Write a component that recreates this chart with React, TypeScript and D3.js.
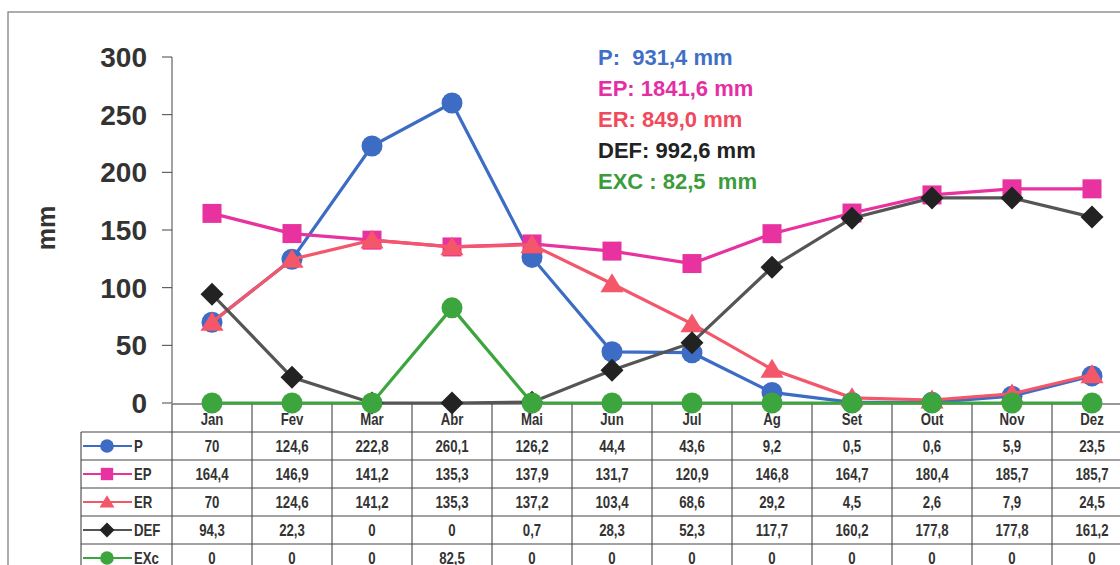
import * as d3 from 'd3';

const months = ['Jan', 'Fev', 'Mar', 'Abr', 'Mai', 'Jun', 'Jul', 'Ag', 'Set', 'Out', 'Nov', 'Dez'];
const pValues = [70, 124.6, 222.8, 260.1, 126.2, 44.4, 43.6, 9.2, 0.5, 0.6, 5.9, 23.5];
const epValues = [164.4, 146.9, 141.2, 135.3, 137.9, 131.7, 120.9, 146.8, 164.7, 180.4, 185.7, 185.7];
const erValues = [70, 124.6, 141.2, 135.3, 137.2, 103.4, 68.6, 29.2, 4.5, 2.6, 7.9, 24.5];
const defValues = [94.3, 22.3, 0, 0, 0.7, 28.3, 52.3, 117.7, 160.2, 177.8, 177.8, 161.2];
const excValues = [0, 0, 0, 82.5, 0, 0, 0, 0, 0, 0, 0, 0];
const yTicks = [0, 50, 100, 150, 200, 250, 300];
const totals = [
  { text: 'P:  931,4 mm', color: '#3f6fc6' },
  { text: 'EP: 1841,6 mm', color: '#e42fa4' },
  { text: 'ER: 849,0 mm', color: '#f04a5c' },
  { text: 'DEF: 992,6 mm', color: '#222222' },
  { text: 'EXC : 82,5  mm', color: '#3c9c3c' },
];

type Shape = 'circle' | 'square' | 'triangle' | 'diamond';
const series: { name: string; values: number[]; line: string; fill: string; shape: Shape }[] = [
  { name: 'P', values: pValues, line: '#3d6cc4', fill: '#3d6cc4', shape: 'circle' },
  { name: 'EP', values: epValues, line: '#e8329f', fill: '#e8329f', shape: 'square' },
  { name: 'ER', values: erValues, line: '#f4566a', fill: '#f4566a', shape: 'triangle' },
  { name: 'DEF', values: defValues, line: '#555555', fill: '#222222', shape: 'diamond' },
  { name: 'EXc', values: excValues, line: '#3da53d', fill: '#3da53d', shape: 'circle' },
];

const fmt = (v: number) => String(v).replace('.', ',');

function Marker({ shape, x, y, fill, s = 1 }: { shape: Shape; x: number; y: number; fill: string; s?: number }) {
  if (shape === 'circle') return <circle cx={x} cy={y} r={10.5 * s} fill={fill} />;
  if (shape === 'square') return <rect x={x - 9.5 * s} y={y - 9.5 * s} width={19 * s} height={19 * s} fill={fill} />;
  if (shape === 'triangle') {
    const h = 10.5 * s;
    return <path d={`M${x},${y - h}L${x + h * 1.1},${y + h * 0.8}L${x - h * 1.1},${y + h * 0.8}Z`} fill={fill} />;
  }
  const d = 11.5 * s;
  return <path d={`M${x},${y - d}L${x + d},${y}L${x},${y + d}L${x - d},${y}Z`} fill={fill} />;
}

// condensed bold label (the original uses a narrow face)
function NarrowText({ x, y, anchor = 'middle', children }: { x: number; y: number; anchor?: string; children: any }) {
  return (
    <text transform={`translate(${x},${y}) scale(0.8,1)`} dy="0.36em" textAnchor={anchor} fontSize={16.5}
      fontWeight="bold" fill="#333">
      {children}
    </text>
  );
}

export default function App() {
  const width = 1120;
  const height = 565;
  const x = d3.scaleBand().domain(months).range([172, 1132]).padding(0);
  const y = d3.scaleLinear().domain([0, 300]).range([403, 57]);
  const cx = (m: string) => (x(m) as number) + x.bandwidth() / 2;
  const line = d3
    .line<number>()
    .x((_, i) => cx(months[i]))
    .y((d) => y(d));

  const tableTop = 404;
  const rowH = 28;
  const legendLeft = 81;

  return (
    <svg width={width} height={height} style={{ position: 'fixed', left: 0, top: 0, background: '#fff' }}
      fontFamily="'Liberation Sans', Arial, sans-serif">
      <rect x={8} y={12} width={1130} height={580} fill="none" stroke="#777" strokeWidth={1.2} />

      {/* y axis */}
      <line x1={172} x2={172} y1={y(300)} y2={y(0)} stroke="#444" strokeWidth={1} />
      {yTicks.map((t) => (
        <g key={t}>
          <line x1={162} x2={172} y1={y(t)} y2={y(t)} stroke="#444" />
          <text x={147} y={y(t)} dy="0.36em" textAnchor="end" fontSize={28} fontWeight="bold" fill="#333">
            {t}
          </text>
        </g>
      ))}
      <text transform="translate(55,228) rotate(-90)" textAnchor="middle" fontSize={25} fontWeight="bold" fill="#333">
        mm
      </text>

      {/* table grid */}
      <line x1={172} x2={1132} y1={tableTop} y2={tableTop} stroke="#333" strokeWidth={1.2} />
      {months.map((m) => (
        <line key={m} x1={x(m) as number} x2={x(m) as number} y1={tableTop} y2={height} stroke="#333" />
      ))}
      <line x1={legendLeft} x2={legendLeft} y1={tableTop + rowH} y2={height} stroke="#333" />
      {series.map((s, i) => (
        <line key={s.name} x1={legendLeft} x2={1132} y1={tableTop + rowH * (i + 1)} y2={tableTop + rowH * (i + 1)}
          stroke="#444" />
      ))}
      {months.map((m) => (
        <NarrowText key={m} x={cx(m)} y={tableTop + rowH / 2 + 1}>
          {m}
        </NarrowText>
      ))}
      {series.map((s, i) => {
        const ry = tableTop + rowH * (i + 1) + rowH / 2;
        return (
          <g key={s.name}>
            <line x1={83} x2={132} y1={ry} y2={ry} stroke={s.line} strokeWidth={2} />
            <Marker shape={s.shape} x={107} y={ry} fill={s.fill} s={0.65} />
            <NarrowText x={134} y={ry} anchor="start">
              {s.name}
            </NarrowText>
            {s.values.map((v, j) => (
              <NarrowText key={j} x={cx(months[j])} y={ry}>
                {fmt(v)}
              </NarrowText>
            ))}
          </g>
        );
      })}

      {/* series */}
      {series.map((s) => (
        <g key={s.name}>
          <path d={line(s.values) as string} fill="none" stroke={s.line} strokeWidth={3.2} />
          {s.values.map((v, j) => (
            <Marker key={j} shape={s.shape} x={cx(months[j])} y={y(v)} fill={s.fill} />
          ))}
        </g>
      ))}

      {/* totals */}
      {totals.map((t, i) => (
        <text key={t.text} x={598} y={57 + i * 31} dy="0.36em" fontSize={22} fontWeight="bold" fill={t.color}
          style={{ whiteSpace: 'pre' }}>
          {t.text}
        </text>
      ))}
    </svg>
  );
}
